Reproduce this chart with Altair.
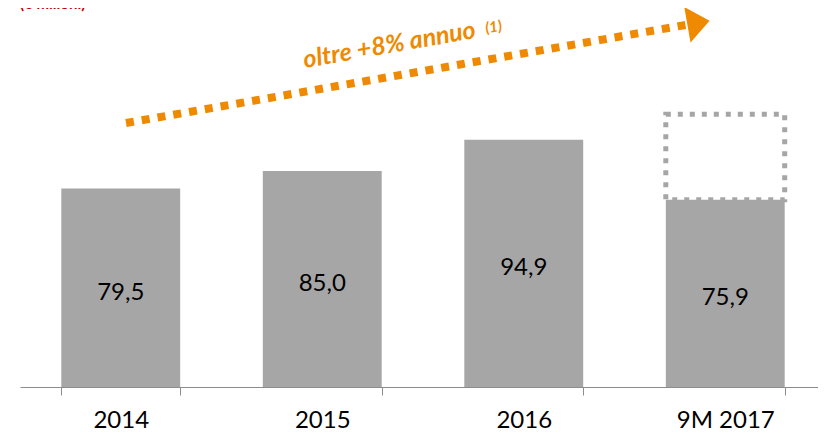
import altair as alt
import pandas as pd

# ---- data ----
categories = ["2014", "2015", "2016", "9M 2017"]
values = [79.5, 85.0, 94.9, 75.9]
value_labels = ["79,5", "85,0", "94,9", "75,9"]

projection_category = ["9M 2017"]
projection_low = [75.9]
projection_high = [103.0]

unit_label = ["(€ milioni)"]

# value axis of the reference does not start at zero
y_min = 16.7
y_max = 136.6

# trend arrow annotation, in category-axis units (0..4) and value units
trend_x = [0.526, 3.31]
trend_y = [100.2, 131.3]
head_x = [3.365]
head_y = [131.9]
trend_text = ["oltre +8% annuo"]
trend_text_x = [1.84]
trend_text_y = [122.4]
note_text = ["(1)"]
note_x = [2.35]
note_y = [130.6]

ORANGE = "#EF8A00"
GREY = "#A6A6A6"
FONT = "Lato"

bars_df = pd.DataFrame({"cat": categories, "value": values, "label": value_labels})
proj_df = pd.DataFrame({"cat": projection_category, "lo": projection_low, "hi": projection_high})
trend_df = pd.DataFrame({"u": trend_x, "v": trend_y})
head_df = pd.DataFrame({"u": head_x, "v": head_y})
ttext_df = pd.DataFrame({"u": trend_text_x, "v": trend_text_y, "t": trend_text})
note_df = pd.DataFrame({"u": note_x, "v": note_y, "t": note_text})
unit_df = pd.DataFrame({"t": unit_label})

yscale = alt.Scale(domain=[y_min, y_max], zero=False, nice=False)


def band_scale():
    return alt.Scale(domain=categories, range=[0, 806], paddingInner=0.41, paddingOuter=0.205)


xband = alt.X(
    "cat:N",
    sort=categories,
    title=None,
    scale=band_scale(),
    axis=alt.Axis(
        orient="bottom",
        labelAngle=0,
        labelFontSize=24,
        labelFont=FONT,
        labelColor="#000000",
        labelPadding=13,
        domainColor="#8C8C8C",
        tickColor="#8C8C8C",
        tickSize=8,
        tickBand="extent",
        grid=False,
    ),
)

bars = alt.Chart(bars_df).mark_bar(color=GREY).encode(
    x=xband,
    y=alt.Y("value:Q", scale=yscale, axis=None),
    y2=alt.datum(y_min),
)

bar_text = alt.Chart(bars_df).transform_calculate(
    mid=f"(datum.value + {y_min}) / 2"
).mark_text(
    fontSize=24, font=FONT, color="#000000", baseline="alphabetic", dy=12
).encode(
    x=alt.X("cat:N", sort=categories, scale=band_scale(), axis=None),
    y=alt.Y("mid:Q", scale=yscale, axis=None),
    text="label:N",
)

proj = alt.Chart(proj_df).mark_bar(
    filled=False, stroke=GREY, strokeWidth=5, strokeDash=[5, 7]
).encode(
    x=alt.X("cat:N", sort=categories, scale=band_scale(), axis=None),
    y=alt.Y("hi:Q", scale=yscale, axis=None),
    y2="lo:Q",
)

ux = alt.Scale(domain=[0, 4], range=[0, 806])

trend = alt.Chart(trend_df).mark_line(
    color=ORANGE, strokeWidth=8, strokeDash=[8, 8], strokeCap="butt"
).encode(
    x=alt.X("u:Q", scale=ux, axis=None),
    y=alt.Y("v:Q", scale=yscale, axis=None),
)

head = alt.Chart(head_df).mark_point(
    shape="M-0.6,-1L0.65,0L-0.6,1Z", filled=True, color=ORANGE, opacity=1,
    size=1296, angle=350, strokeWidth=0,
).encode(
    x=alt.X("u:Q", scale=ux, axis=None),
    y=alt.Y("v:Q", scale=yscale, axis=None),
)

ttext = alt.Chart(ttext_df).mark_text(
    font=FONT, fontSize=25, fontStyle="italic", fontWeight="bold", color=ORANGE,
    angle=350, align="center", baseline="alphabetic",
).encode(
    x=alt.X("u:Q", scale=ux, axis=None),
    y=alt.Y("v:Q", scale=yscale, axis=None),
    text="t:N",
)

note = alt.Chart(note_df).mark_text(
    font=FONT, fontSize=15, fontStyle="italic", fontWeight="bold", color=ORANGE,
    angle=350, align="center", baseline="middle",
).encode(
    x=alt.X("u:Q", scale=ux, axis=None),
    y=alt.Y("v:Q", scale=yscale, axis=None),
    text="t:N",
)

unit = alt.Chart(unit_df).mark_text(
    font=FONT, fontSize=15, fontWeight="bold", color="#C00000",
    align="left", baseline="alphabetic",
).encode(
    x=alt.value(0),
    y=alt.value(1),
    text="t:N",
)

chart = (
    alt.layer(bars, bar_text, proj, trend, head, ttext, note, unit)
    .resolve_scale(x="independent")
    .properties(
        width=798,
        height=379,
        autosize=alt.AutoSizeParams(type="none"),
        padding={"left": 12, "top": 0, "right": 0, "bottom": 47},
    )
    .configure_view(stroke="transparent", strokeWidth=0, strokeOpacity=0)
    .configure(background="white", style={"cell": {"stroke": "transparent", "strokeWidth": 0}})
)

chart.save("out.html", embed_options={"renderer": "svg", "actions": False})
